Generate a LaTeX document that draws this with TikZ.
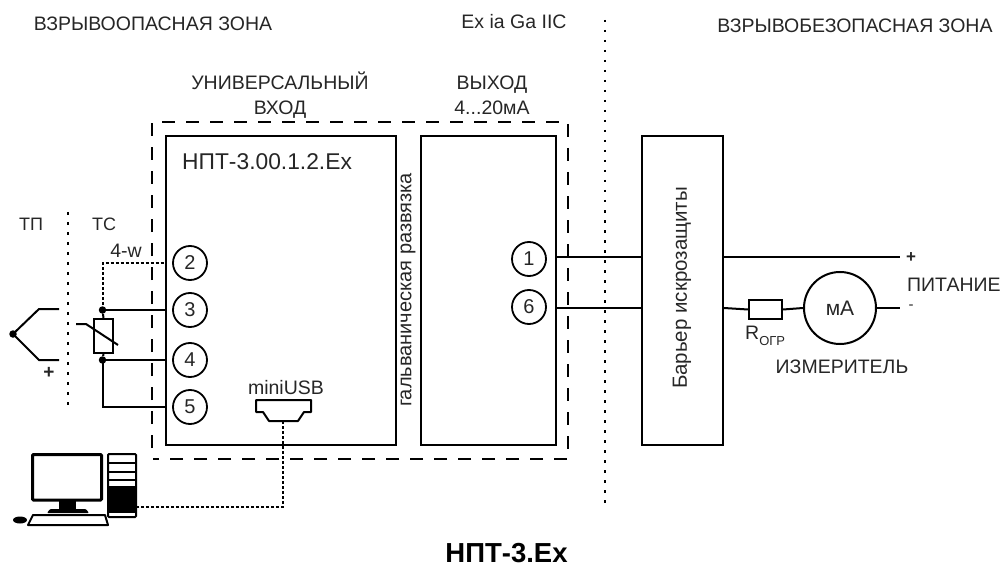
\documentclass[tikz,border=0pt]{standalone}
\usepackage{fontspec}
\setmainfont{Liberation Sans}
\usetikzlibrary{positioning}
\tikzset{x=1pt,y=-1pt,
 wire/.style={line width=2pt,black},
 box/.style={draw,line width=2pt,rectangle,anchor=north west,inner sep=0pt},
 pin/.style={draw,circle,line width=1.8pt,minimum size=34pt,inner sep=0pt,font=\fontsize{20}{20}\selectfont,text=black!85},
 txt/.style={inner sep=0pt,font=\fontsize{19.5}{25}\selectfont,text=black!85,align=center},
 dash5/.style={line width=2pt,dash pattern=on 13pt off 11pt},
 dots/.style={line width=2.5pt,dash pattern=on 2.5pt off 7.5pt},
 sig/.style={line width=1.8pt,dash pattern=on 3pt off 2pt},
 dot/.style={circle,fill=black,inner sep=0pt,minimum size=7.5pt}}
\begin{document}
\begin{tikzpicture}
\useasboundingbox (0,0) rectangle (1002,567);
% zones
\node[txt] (z1) at (153,24) {ВЗРЫВООПАСНАЯ ЗОНА};
\node[txt] (z2) at (514,22) {Ex ia Ga IIC};
\node[txt] (z3) at (855,26) {ВЗРЫВОБЕЗОПАСНАЯ ЗОНА};
\node[txt] (uv) at (280,95) {УНИВЕРСАЛЬНЫЙ\\ВХОД};
\node[txt] (vy) at (492,95) {ВЫХОД\\4...20мА};
\node[txt,font=\fontsize{18}{20}\selectfont] (tp) at (31,224) {ТП};
\node[txt,font=\fontsize{18}{20}\selectfont] (tc) at (104,224) {ТС};
\node[txt] (w4) at (126,251) {4-w};
% dotted separators
\coordinate (s1a) at (605,20); \coordinate (s1b) at (605,505);
\draw[dots] (s1a) -- (s1b);
\coordinate (s2a) at (68,212); \coordinate (s2b) at (68,406);
\draw[dots] (s2a) -- (s2b);
% dashed enclosure
\draw[dash5] (152,448) -- (152,122) -- (568,122) -- (568,459) -- (153,459);
% boxes
\node[box,minimum width=230pt,minimum height=309pt] (main) at (165,135) {};
\node[box,minimum width=135pt,minimum height=309pt] (out) at (420,135) {};
\node[box,minimum width=81pt,minimum height=309pt] (bar) at (641,135) {};
\node[txt,anchor=west,font=\fontsize{22.8}{25}\selectfont] (nm) at (182,162) {НПТ-3.00.1.2.Ex};
\node[txt,rotate=90,font=\fontsize{20}{22}\selectfont] (gr) at (408,290) {гальваническая развязка};
\node[txt,rotate=90,font=\fontsize{20.5}{22}\selectfont] (bi) at (682,288) {Барьер искрозащиты};
% pins
\node[pin] (p2) at (190,263) {2};
\node[pin] (p3) at (190,310) {3};
\node[pin] (p4) at (190,360) {4};
\node[pin] (p5) at (190,407) {5};
\node[pin] (p1) at (529,259) {1};
\node[pin] (p6) at (529,307) {6};
% outputs
\coordinate (plus) at (900,257); \coordinate (minus) at (900,308);
\draw[wire] (out.east |- plus) -- (bar.west |- plus);
\draw[wire] (out.east |- minus) -- (bar.west |- minus);
\draw[wire] (bar.east |- plus) -- (plus);
\node[box,minimum width=33pt,minimum height=19pt] (rogr) at (748,299) {};
\node[draw,circle,line width=2pt,minimum size=72pt,inner sep=0pt,font=\fontsize{21}{22}\selectfont,text=black!85] (ma) at (840,308) {мА};
\draw[wire] (bar.east |- minus) -- (rogr.west);
\draw[wire] (rogr.east) -- (ma.west);
\draw[wire] (ma.east) -- (minus);
\node[txt,font=\bfseries\fontsize{17}{17}\selectfont] (pl) at (911,258) {+};
\node[txt,font=\fontsize{15}{15}\selectfont] (mi) at (911,307) {-};
\node[txt,anchor=west] (pit) at (907,285) {ПИТАНИЕ};
\node[txt,anchor=west] (rl) at (745,336) {R\raisebox{-6pt}{\fontsize{13}{14}\selectfont ОГР}};
\node[txt] (izm) at (842,367) {ИЗМЕРИТЕЛЬ};
% thermocouple
\node[dot] (j) at (13,334) {};
\coordinate (tu) at (59,309); \coordinate (td) at (59,360);
\draw[wire] (j.center) -- (39,309) -- (tu);
\draw[wire] (j.center) -- (39,360) -- (td);
\node[txt,font=\fontsize{19}{20}\bfseries] (pp) at (49,373) {+};
% RTD
\node[box,minimum width=19pt,minimum height=34pt] (rtd) at (93,318) {};
\node[dot] (n3) at (102.5,310) {};
\node[dot] (n4) at (102.5,360) {};
\draw[wire] (n3) -- (rtd.north);
\draw[wire] (n4) -- (rtd.south);
\draw[wire] (76,324) -- (86,324) -- (118,345);
\draw[wire] (n3.center) -- (main.west |- n3);
\draw[wire] (n4.center) -- (main.west |- n4);
\draw[wire] (n4.center) -- (102.5,407) -- (main.west |- 0,407);
\draw[sig,line width=2pt] (n3.center) -- (102.5,263) -- (main.west |- 0,263);
% miniUSB
\node[txt] (mu) at (286,388) {miniUSB};
\draw[line width=2pt,line join=round] (256,400) -- (311,400) -- (311,412) -- (304,412) -- (298,421) -- (269,421) -- (263,412) -- (256,412) -- cycle;
\coordinate (usb) at (283,421);
\coordinate (pc) at (137,507);
\draw[sig] (usb) -- (283,507) -- (pc);
% computer
\draw[line width=3pt,rounded corners=1pt] (32.5,454.5) rectangle (101.5,500);
\fill (59,501) rectangle (76,510);
\fill[rounded corners=1pt] (47,513) -- (50,509) -- (86,509) -- (89,513) -- cycle;
\draw[line width=2pt,rounded corners=1pt] (108,454) rectangle (136,517);
\fill (108,486) rectangle (136,513);
\foreach \yy in {463,472,480}{\draw[line width=1.5pt] (108,\yy) -- (136,\yy);}
\draw[line width=2pt,line join=round] (33,515) -- (105,515) -- (108,525) -- (28,525) -- cycle;
\fill (20,520) ellipse (7pt and 3.5pt);
% title
\node[txt,text=black,font=\fontsize{27.5}{29}\bfseries] (title) at (506.5,553) {НПТ-3.Ex};
\end{tikzpicture}
\end{document}
